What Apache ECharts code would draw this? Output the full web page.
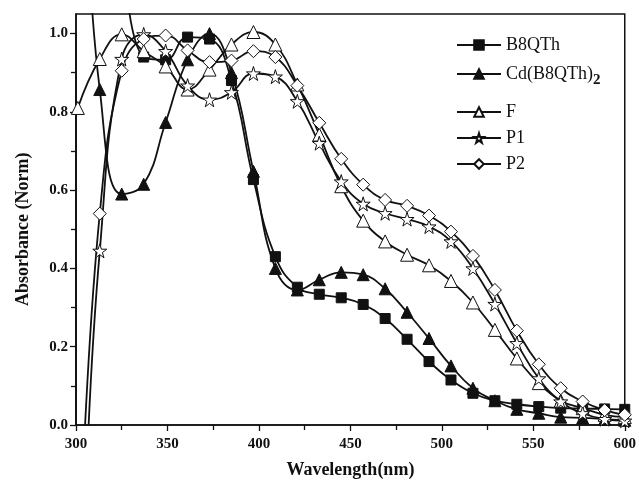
<!DOCTYPE html>
<html>
<head>
<meta charset="utf-8">
<style>html,body{margin:0;padding:0;background:#fff}#chart{width:639px;height:487px}</style>
<script src="https://cdn.jsdelivr.net/npm/echarts@6/dist/echarts.min.js"></script>
</head>
<body>
<div id="chart"></div>
<script>
// wavelengths of the plotted markers (nm)
var wl = [301, 313, 325, 337, 349, 361, 373, 385, 397, 409, 421, 433, 445, 457, 469, 481, 493, 505, 517, 529, 541, 553, 565, 577, 589, 600];
var b8qth = [null, null, null, 0.94, 0.933, 0.991, 0.986, 0.88, 0.627, 0.43, 0.352, 0.334, 0.325, 0.308, 0.272, 0.219, 0.162, 0.115, 0.081, 0.062, 0.053, 0.047, 0.043, 0.042, 0.041, 0.04];
var cdB8qth = [null, 0.857, 0.59, 0.615, 0.773, 0.933, 1.0, 0.90, 0.648, 0.40, 0.345, 0.371, 0.39, 0.384, 0.348, 0.288, 0.221, 0.151, 0.094, 0.062, 0.04, 0.03, 0.02, 0.018, 0.015, 0.012];
var f = [0.81, 0.935, 0.998, 0.955, 0.916, 0.857, 0.908, 0.972, 1.004, 0.972, 0.87, 0.742, 0.61, 0.522, 0.469, 0.435, 0.408, 0.368, 0.313, 0.243, 0.17, 0.107, 0.062, 0.043, 0.026, 0.02];
var p1 = [null, 0.445, 0.935, 0.998, 0.955, 0.867, 0.831, 0.85, 0.898, 0.89, 0.827, 0.72, 0.622, 0.565, 0.541, 0.526, 0.507, 0.469, 0.40, 0.309, 0.209, 0.119, 0.06, 0.03, 0.015, 0.011];
var p2 = [null, 0.54, 0.905, 0.986, 0.995, 0.957, 0.927, 0.931, 0.955, 0.94, 0.867, 0.772, 0.68, 0.614, 0.575, 0.56, 0.535, 0.494, 0.432, 0.345, 0.241, 0.155, 0.094, 0.06, 0.038, 0.026];
// curve ends running off the plot (no marker)
var b8qthLead = [[326, 1.2]];
var cdLead = [[306, 1.3]];
var p1Lead = [[306, -0.1]];
var p2Lead = [[304, -0.1]];

var star = 'path://M50,0 L61,35 L98,35 L68,57 L79,91 L50,70 L21,91 L32,57 L2,35 L39,35 Z';
var font = 'Liberation Serif';

function pts(lead, vals) {
    var d = lead.map(function (p) { return {value: p, symbol: 'none'}; });
    wl.forEach(function (x, i) {
        if (vals[i] != null) d.push([x, vals[i]]);
    });
    return d;
}

function line(name, lead, vals, symbol, size, fill) {
    return {
        name: name,
        type: 'line',
        xAxisIndex: 0,
        yAxisIndex: 0,
        data: pts(lead, vals),
        smooth: 0.45,
        symbol: symbol,
        symbolSize: size,
        showAllSymbol: true,
        lineStyle: {color: '#111', width: 1.8},
        itemStyle: {color: fill, borderColor: '#111', borderWidth: 1},
        emphasis: {disabled: true},
        animation: false
    };
}

function legendAt(name, top) {
    return {
        data: [name],
        left: 451,
        top: top,
        itemWidth: 44,
        itemHeight: 12,
        textStyle: {
            fontFamily: font, fontSize: 18, color: '#111',
            rich: {sub: {fontFamily: font, fontSize: 15, fontWeight: 'bold', color: '#111', padding: [12, 0, 0, 0]}}
        },
        formatter: function (n) {
            return n === 'Cd(B8QTh)2' ? 'Cd(B8QTh){sub|2}' : n;
        }
    };
}

var chart = echarts.init(document.getElementById('chart'));
chart.setOption({
    backgroundColor: '#fff',
    animation: false,
    legend: [
        legendAt('B8QTh', 31),
        legendAt('Cd(B8QTh)2', 60),
        legendAt('F', 98),
        legendAt('P1', 124),
        legendAt('P2', 150)
    ],
    grid: [
        {left: 76, right: 14, top: 14, bottom: 62, show: true, borderColor: '#111', borderWidth: 1.5},
        {left: 76, right: 14, top: 33.6, bottom: 62}
    ],
    xAxis: [
        {
            gridIndex: 0, type: 'value', min: 300, max: 600, interval: 50,
            axisLine: {lineStyle: {color: '#111', width: 1.5}},
            axisTick: {length: 6, lineStyle: {color: '#111', width: 1.3}},
            minorTick: {show: true, splitNumber: 2, length: 5, lineStyle: {color: '#111', width: 1.3}},
            splitLine: {show: false},
            axisLabel: {fontFamily: font, fontSize: 15, fontWeight: 'bold', color: '#111', margin: 12},
            name: 'Wavelength(nm)', nameLocation: 'middle', nameGap: 36,
            nameTextStyle: {fontFamily: font, fontSize: 18, fontWeight: 'bold', color: '#111'}
        },
        {gridIndex: 1, type: 'value', min: 300, max: 600, show: false}
    ],
    yAxis: [
        {
            gridIndex: 0, type: 'value', min: 0, max: 1.05,
            axisLine: {show: true, lineStyle: {color: '#111', width: 1.5}},
            axisTick: {show: false}, axisLabel: {show: false}, splitLine: {show: false}
        },
        {
            gridIndex: 1, type: 'value', min: 0, max: 1, interval: 0.2,
            axisLine: {show: true, lineStyle: {color: '#111', width: 1.5}},
            axisTick: {show: true, length: 6, lineStyle: {color: '#111', width: 1.3}},
            minorTick: {show: true, splitNumber: 2, length: 5, lineStyle: {color: '#111', width: 1.3}},
            splitLine: {show: false},
            axisLabel: {
                fontFamily: font, fontSize: 15, fontWeight: 'bold', color: '#111', margin: 8,
                formatter: function (v) { return v.toFixed(1); }
            },
            name: 'Absorbance (Norm)', nameLocation: 'middle', nameGap: 44,
            nameTextStyle: {fontFamily: font, fontSize: 18, fontWeight: 'bold', color: '#111'}
        }
    ],
    series: [
        line('B8QTh', b8qthLead, b8qth, 'rect', 10, '#111'),
        line('Cd(B8QTh)2', cdLead, cdB8qth, 'triangle', 12, '#111'),
        line('F', [], f, 'triangle', 13, '#fff'),
        line('P1', p1Lead, p1, star, 14, '#fff'),
        line('P2', p2Lead, p2, 'diamond', 13, '#fff')
    ]
});
</script>
</body>
</html>
